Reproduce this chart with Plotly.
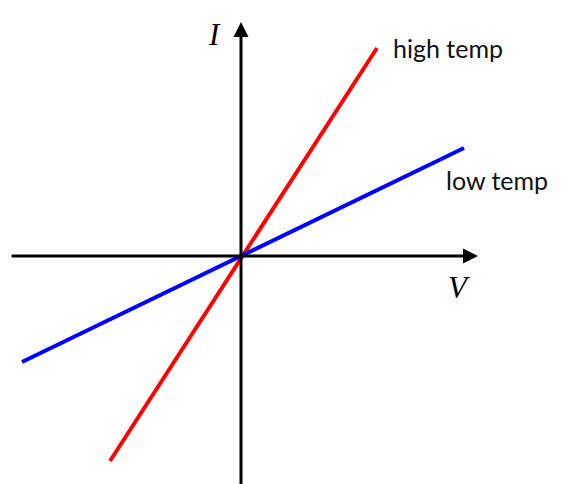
import plotly.graph_objects as go

# data (arbitrary units, origin at intersection of axes)
high_x = [-131, 136]
high_y = [-205, 208]
low_x = [-219, 223]
low_y = [-106, 108]

fig = go.Figure()
fig.add_trace(go.Scatter(x=high_x, y=high_y, mode="lines",
                         line=dict(color="#ff0000", width=4), hoverinfo="skip"))
fig.add_trace(go.Scatter(x=low_x, y=low_y, mode="lines",
                         line=dict(color="#0000ff", width=4), hoverinfo="skip"))

# axes with arrows
fig.add_annotation(x=237, y=0, ax=-231, ay=0, xref="x", yref="y", axref="x", ayref="y",
                   showarrow=True, arrowhead=2, arrowsize=1, arrowwidth=3, arrowcolor="black", text="")
fig.add_annotation(x=0, y=234, ax=0, ay=-240, xref="x", yref="y", axref="x", ayref="y",
                   showarrow=True, arrowhead=2, arrowsize=1, arrowwidth=3, arrowcolor="black", text="")

fig.add_annotation(x=-27, y=222, text="<i>I</i>", showarrow=False,
                   font=dict(family="Liberation Serif", size=31, color="black"))
fig.add_annotation(x=218, y=-31, text="<i>V</i>", showarrow=False,
                   font=dict(family="Liberation Serif", size=31, color="black"))
fig.add_annotation(x=150, y=208, text="high temp", showarrow=False, xanchor="left",
                   font=dict(family="Lato", size=25, color="#111111"))
fig.add_annotation(x=203, y=76, text="low temp", showarrow=False, xanchor="left",
                   font=dict(family="Lato", size=25, color="#111111"))

fig.update_layout(
    width=562, height=484, margin=dict(l=0, r=0, t=0, b=0),
    plot_bgcolor="white", paper_bgcolor="white", showlegend=False,
    xaxis=dict(range=[-233, 329], visible=False, fixedrange=True),
    yaxis=dict(range=[-236, 248], visible=False, fixedrange=True),
)
fig.write_html("out.html")
